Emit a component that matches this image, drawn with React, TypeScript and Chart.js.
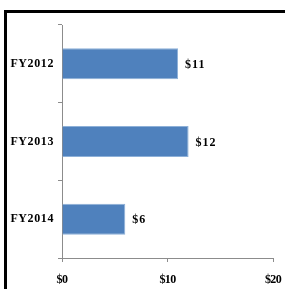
import React, { useEffect, useRef } from "react";
import { Chart, registerables } from "chart.js";

Chart.register(...registerables);

const categories = ["FY2012", "FY2013", "FY2014"];
const values = [11, 12, 6];
const xTickValues = [0, 10, 20];
const barColor = "#4F81BD";

const dataLabelPlugin = {
  id: "dataLabels",
  beforeDraw(chart: any) {
    chart.ctx.letterSpacing = "0.6px";
  },
  afterDatasetsDraw(chart: any) {
    const ctx = chart.ctx;
    const meta = chart.getDatasetMeta(0);
    ctx.save();
    ctx.font = "bold 12px 'Liberation Serif', 'Times New Roman', serif";
    ctx.fillStyle = "#000";
    ctx.textAlign = "left";
    ctx.textBaseline = "middle";
    ctx.letterSpacing = "1px";
    meta.data.forEach((bar: any, i: number) => {
      ctx.fillText("$" + values[i], bar.x + 7, bar.y + 1);
    });
    ctx.restore();
    ctx.letterSpacing = "-0.6px";
  },
};

export default function App() {
  const canvasRef = useRef<HTMLCanvasElement>(null);

  useEffect(() => {
    const canvas = canvasRef.current!;
    const chart = new Chart(canvas, {
      type: "bar",
      data: {
        labels: categories,
        datasets: [
          {
            data: values,
            backgroundColor: barColor,
            borderColor: "#8DB0D8",
            borderWidth: 1,
            categoryPercentage: 0.8,
            barPercentage: 0.5,
          },
        ],
      },
      options: {
        indexAxis: "y",
        animation: false,
        responsive: false,
        maintainAspectRatio: false,
        layout: { padding: { left: 0, top: 25, right: 12, bottom: 0 } },
        plugins: {
          legend: { display: false },
          tooltip: { enabled: false },
        },
        scales: {
          y: {
            afterFit(scale: any) {
              scale.width = 62;
              scale.paddingTop = 0;
              scale.paddingBottom = 0;
            },
            grid: {
              drawOnChartArea: false,
              drawTicks: true,
              tickLength: 4,
              color: "#8c8c8c",
              offset: true,
            },
            border: { display: true, color: "#8c8c8c", width: 1 },
            ticks: {
              color: "#000",
              padding: 4,
              font: { family: "'Liberation Serif', 'Times New Roman', serif", size: 12, weight: "bold" },
            },
          },
          x: {
            min: 0,
            max: 20,
            afterFit(scale: any) {
              scale.height = 31;
              scale.paddingLeft = 0;
              scale.paddingRight = 0;
            },
            afterBuildTicks(scale: any) {
              scale.ticks = xTickValues.map((v) => ({ value: v }));
            },
            grid: {
              drawOnChartArea: false,
              drawTicks: true,
              tickLength: 4,
              color: "#8c8c8c",
            },
            border: { display: true, color: "#8c8c8c", width: 1 },
            ticks: {
              z: 1,
              color: "#000",
              padding: 11,
              maxRotation: 0,
              callback: (v: any) => "$" + v,
              font: { family: "'Liberation Serif', 'Times New Roman', serif", size: 12, weight: "bold" },
            },
          },
        },
      },
      plugins: [dataLabelPlugin],
    } as any);
    return () => chart.destroy();
  }, []);

  return (
    <div style={{ position: "fixed", left: 0, top: 0, width: 285, height: 289, background: "#fff" }}>
      <div
        style={{
          position: "absolute",
          left: 4,
          top: 10,
          right: 0,
          bottom: 0,
          borderTop: "3px solid #000",
          borderLeft: "3px solid #000",
        }}
      />
      <canvas
        ref={canvasRef}
        width={285}
        height={289}
        style={{ position: "absolute", left: 0, top: 0, width: 285, height: 289 }}
      />
    </div>
  );
}
